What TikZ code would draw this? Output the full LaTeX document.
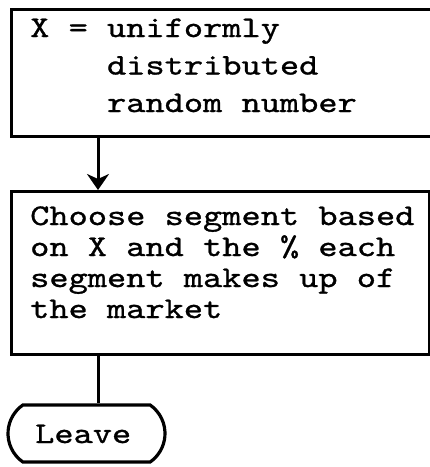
\documentclass[tikz,border=0pt]{standalone}
\usepackage{fontspec}
% typewriter face, widened to a Courier-like pitch
\newfontfamily\tw{lmmono10-regular.otf}[FakeStretch=1.22,FakeBold=1.0]
\usetikzlibrary{shapes.misc,arrows.meta}
\begin{document}
\begin{tikzpicture}[x=1pt,y=-1pt,
  flowbox/.style={draw, line width=3pt, inner sep=0pt, anchor=north west},
  terminal/.style={draw, rounded rectangle, rounded rectangle arc length=110,
    line width=3.2pt, inner sep=0pt},
  txt/.style={anchor=base west, inner sep=0pt,
    font=\tw\fontsize{30pt}{31pt}\selectfont},
  flowline/.style={line width=3pt},
  flowarrow/.style={flowline, -{Stealth[length=16pt,width=22pt,inset=5pt]}}]
\useasboundingbox (0,0) rectangle (430,467);

% process boxes
\node[flowbox, minimum width=421.5pt, minimum height=127pt] (b1) at (10,8) {};
\node[flowbox, minimum width=418pt, minimum height=163pt] (b2) at (10,190) {};
% end terminal
\node[terminal, minimum width=157pt, minimum height=57pt] (term) at (86.5,433.5) {};

% texts
\node[txt] (t1) at (30,37) {\parbox[t]{400pt}{\baselineskip=37.5pt
  X = uniformly\\
  \hphantom{X = }distributed\\
  \hphantom{X = }random number}};
\node[txt] (t2) at (30,225) {\parbox[t]{400pt}{\baselineskip=31pt
  Choose segment based\\
  on X and the \% each\\
  segment makes up of\\
  the market}};
\node[txt] (t3) at (35,443) {Leave};

% connectors
\coordinate (ax) at (98,0);
\draw[flowarrow] (b1.south -| ax) -- (b2.north -| ax);
\draw[flowline] (b2.south -| ax) -- (term.north -| ax);
\end{tikzpicture}
\end{document}
